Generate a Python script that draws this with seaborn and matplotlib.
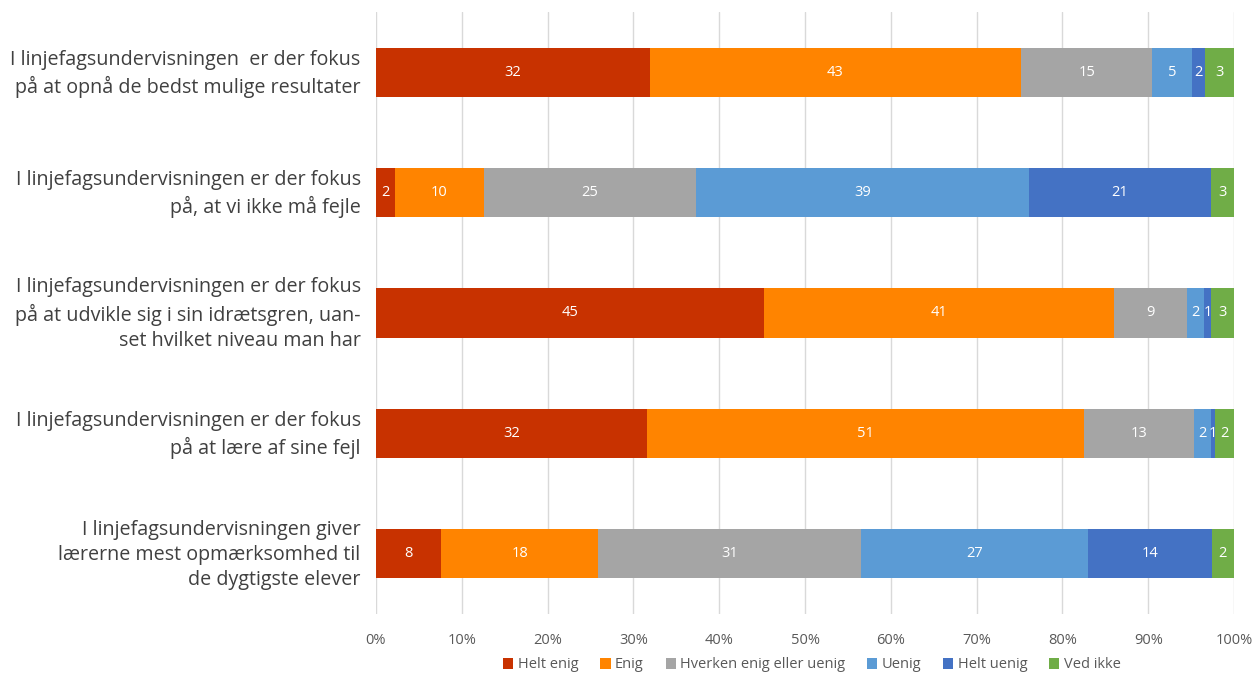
import matplotlib
matplotlib.use("Agg")
import matplotlib.pyplot as plt
import matplotlib.transforms as mtransforms
import seaborn as sns
import numpy as np
import pandas as pd
from matplotlib.patches import Patch

categories = [
    "I linjefagsundervisningen  er der fokus\npå at opnå de bedst mulige resultater",
    "I linjefagsundervisningen er der fokus\npå, at vi ikke må fejle",
    "I linjefagsundervisningen er der fokus\npå at udvikle sig i sin idrætsgren, uan-\nset hvilket niveau man har",
    "I linjefagsundervisningen er der fokus\npå at lære af sine fejl",
    "I linjefagsundervisningen giver\nlærerne mest opmærksomhed til\nde dygtigste elever",
]
series = ["Helt enig", "Enig", "Hverken enig eller uenig", "Uenig", "Helt uenig", "Ved ikke"]
colors = ["#C83200", "#FF8400", "#A5A5A5", "#5B9BD5", "#4472C4", "#70AD47"]

helt_enig = [31.9, 2.2, 45.2, 31.6, 7.6]
enig = [43.3, 10.4, 40.8, 50.9, 18.3]
hverken = [15.3, 24.7, 8.5, 12.8, 30.6]
uenig = [4.6, 38.8, 2.0, 2.0, 26.5]
helt_uenig = [1.5, 21.2, 0.8, 0.5, 14.4]
ved_ikke = [3.4, 2.7, 2.7, 2.2, 2.6]

labels_helt_enig = [32, 2, 45, 32, 8]
labels_enig = [43, 10, 41, 51, 18]
labels_hverken = [15, 25, 9, 13, 31]
labels_uenig = [5, 39, 2, 2, 27]
labels_helt_uenig = [2, 21, 1, 1, 14]
labels_ved_ikke = [3, 3, 3, 2, 2]

values = np.array([helt_enig, enig, hverken, uenig, helt_uenig, ved_ikke])
labels = np.array([labels_helt_enig, labels_enig, labels_hverken, labels_uenig,
                   labels_helt_uenig, labels_ved_ikke])
cum = np.cumsum(values, axis=0)

sns.set_style("white")
font = ["Open Sans", "DejaVu Sans"]
plt.rcParams["font.family"] = font

fig = plt.figure(figsize=(12.53, 6.73), dpi=100)
ax = fig.add_axes([376 / 1253, 1 - 614 / 673, (1234 - 376) / 1253, (614 - 12) / 673])

# draw cumulative bars from the last series to the first (stacking)
for i in range(len(series) - 1, -1, -1):
    df = pd.DataFrame({"cat": categories, "val": cum[i]})
    sns.barplot(data=df, x="val", y="cat", orient="h", color=colors[i],
                saturation=1, width=0.41, ax=ax, zorder=2, linewidth=0)

starts = np.vstack([np.zeros(len(categories)), cum[:-1]])
for i in range(len(series)):
    for j in range(len(categories)):
        ax.text(starts[i, j] + values[i, j] / 2, j, str(labels[i, j]),
                ha="center", va="center", color="white", fontsize=10.5, zorder=3)

ax.set_xlim(0, 100)
ax.set_ylim(len(categories) - 0.5, -0.5)
ax.set_xticks(np.arange(0, 101, 10))
ax.set_xticklabels([f"{t}%" for t in range(0, 101, 10)], color="#595959", fontsize=10.5)
ax.set_yticks(range(len(categories)))
ax.set_yticklabels(categories, color="#404040", fontsize=14.2, linespacing=1.36)
ax.tick_params(axis="y", length=0, pad=11)
ax.tick_params(axis="x", length=8, color="#D9D9D9", width=1, pad=6)
shift = mtransforms.ScaledTranslation(0, 4 / 100, fig.dpi_scale_trans)
for lbl in ax.get_yticklabels():
    lbl.set_transform(lbl.get_transform() + shift)
ax.grid(axis="x", color="#D9D9D9", linewidth=1, zorder=0)
ax.set_axisbelow(True)
for s in ax.spines.values():
    s.set_visible(False)
ax.set_xlabel("")
ax.set_ylabel("")

handles = [Patch(facecolor=c, edgecolor="none") for c in colors]
fig.legend(handles, series, loc="center", bbox_to_anchor=(812 / 1253, 1 - 665 / 673),
           ncol=6, frameon=False, fontsize=10.5, handlelength=0.7, handleheight=0.7,
           handletextpad=0.3, columnspacing=1.5, labelcolor="#595959")

fig.savefig("out.png", dpi=100)
